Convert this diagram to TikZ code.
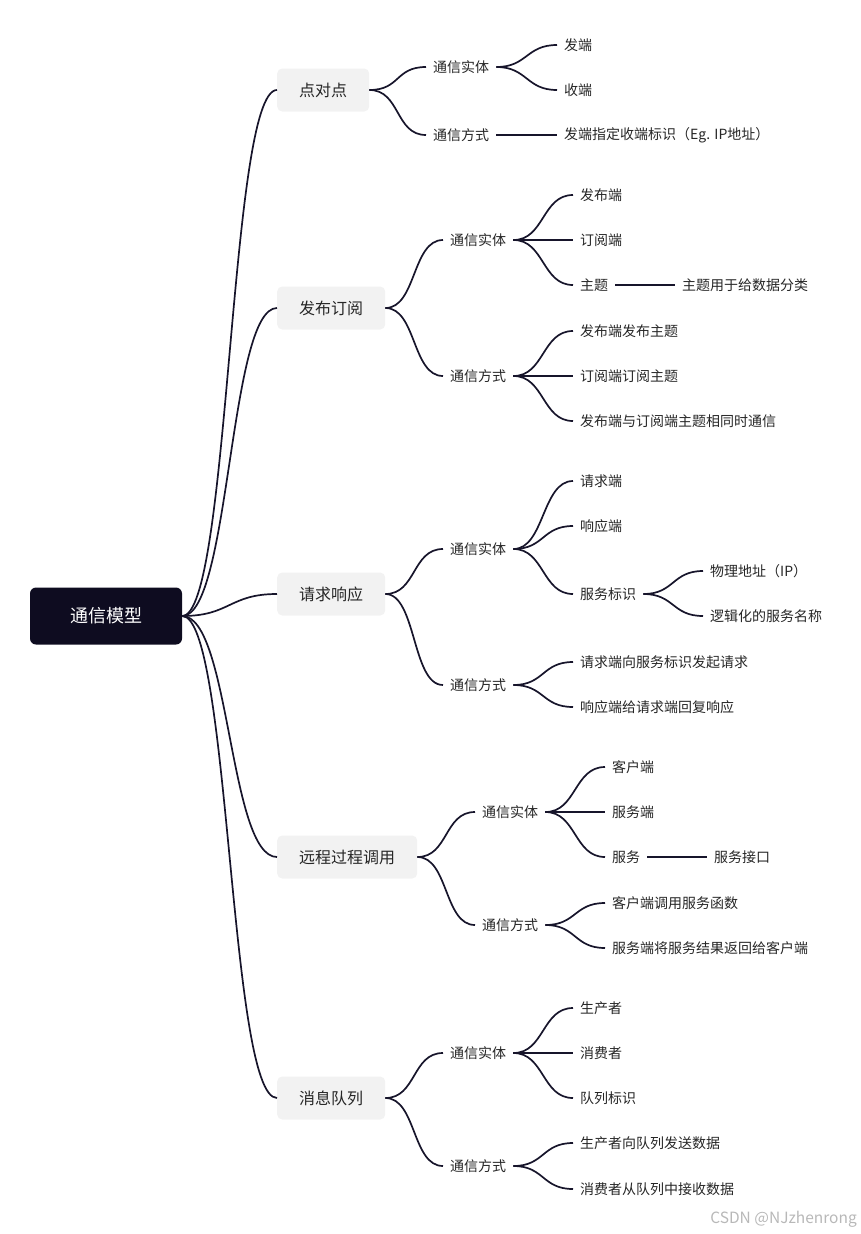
\documentclass[tikz,border=0pt]{standalone}
\usepackage{fontspec}
\setmainfont{Noto Sans CJK SC}
\usetikzlibrary{positioning, calc}
\definecolor{tintaoscura}{HTML}{0E0C20}
\definecolor{grisclaro}{HTML}{F2F2F2}
\definecolor{azulnoche}{HTML}{17152B}
\definecolor{grismarca}{HTML}{B8B8B8}
\colorlet{colRaiz}{tintaoscura}
\colorlet{colTema}{grisclaro}
\colorlet{colRama}{azulnoche}
\colorlet{colTexto}{black!85}
\colorlet{colMarca}{grismarca}
\tikzset{
  cajaRaiz/.style={
    fill=colRaiz, rounded corners=6pt, text=white,
    minimum height=57pt, inner xsep=40pt, inner ysep=0pt,
    font=\fontsize{18}{22}\selectfont
  },
  cajaTema/.style={
    fill=colTema, rounded corners=5pt, text=colTexto,
    minimum height=43pt, inner xsep=22pt, inner ysep=0pt,
    font=\fontsize{16}{19}\selectfont, anchor=west
  },
  etiqueta/.style={
    inner xsep=7pt, inner ysep=2pt, text=colTexto,
    font=\fontsize{14}{17}\selectfont, anchor=west
  },
  rama/.style={draw=colRama, line width=1.7pt},
  curva/.style={to path={.. controls +(#1,0) and +(-#1,0) .. (\tikztotarget) \tikztonodes}},
  curva/.default=31,
  marcaAgua/.style={text=colMarca, font=\fontsize{15.5}{18}\selectfont, anchor=east, inner sep=0pt},
}
\begin{document}
\begin{tikzpicture}[x=1pt, y=-1pt, node distance=40pt]
  \useasboundingbox (0,0) rectangle (861,1234);
  \node[cajaRaiz] (raiz) at (106,616) {通信模型};

  \node[cajaTema] (ppp) at (277,90) {点对点};
  \node[cajaTema] (pubsub) at (277,308) {发布订阅};
  \node[cajaTema] (reqres) at (277,594) {请求响应};
  \node[cajaTema] (rpc) at (277,857) {远程过程调用};
  \node[cajaTema] (cola) at (277,1098) {消息队列};

  \node[etiqueta] (ppp-ent) at (426,67) {通信实体};
  \node[etiqueta] (ppp-mod) at (426,135) {通信方式};
  \node[etiqueta] (ppp-tx) at (557,45) {发端};
  \node[etiqueta] (ppp-rx) at (557,90) {收端};
  \node[etiqueta] (ppp-dir) at (557,135) {发端指定收端标识（Eg. IP地址）};

  \node[etiqueta] (ps-ent) at (443,240) {通信实体};
  \node[etiqueta] (ps-mod) at (443,376) {通信方式};
  \node[etiqueta] (ps-pub) at (573,195) {发布端};
  \node[etiqueta] (ps-sub) at (573,240) {订阅端};
  \node[etiqueta] (ps-tema) at (573,285) {主题};
  \node[etiqueta] (ps-temad) at (675,285) {主题用于给数据分类};
  \node[etiqueta] (ps-m1) at (573,331) {发布端发布主题};
  \node[etiqueta] (ps-m2) at (573,376) {订阅端订阅主题};
  \node[etiqueta] (ps-m3) at (573,421) {发布端与订阅端主题相同时通信};

  \node[etiqueta] (rr-ent) at (443,549) {通信实体};
  \node[etiqueta] (rr-mod) at (443,685) {通信方式};
  \node[etiqueta] (rr-req) at (573,481) {请求端};
  \node[etiqueta] (rr-res) at (573,526) {响应端};
  \node[etiqueta] (rr-id) at (573,594) {服务标识};
  \node[etiqueta] (rr-ip) at (703,571) {物理地址（IP）};
  \node[etiqueta] (rr-nom) at (703,616) {逻辑化的服务名称};
  \node[etiqueta] (rr-m1) at (573,662) {请求端向服务标识发起请求};
  \node[etiqueta] (rr-m2) at (573,707) {响应端给请求端回复响应};

  \node[etiqueta] (rpc-ent) at (475,812) {通信实体};
  \node[etiqueta] (rpc-mod) at (475,925) {通信方式};
  \node[etiqueta] (rpc-cli) at (605,767) {客户端};
  \node[etiqueta] (rpc-srv) at (605,812) {服务端};
  \node[etiqueta] (rpc-svc) at (605,857) {服务};
  \node[etiqueta] (rpc-if) at (707,857) {服务接口};
  \node[etiqueta] (rpc-m1) at (605,903) {客户端调用服务函数};
  \node[etiqueta] (rpc-m2) at (605,948) {服务端将服务结果返回给客户端};

  \node[etiqueta] (mq-ent) at (443,1053) {通信实体};
  \node[etiqueta] (mq-mod) at (443,1166) {通信方式};
  \node[etiqueta] (mq-prod) at (573,1008) {生产者};
  \node[etiqueta] (mq-cons) at (573,1053) {消费者};
  \node[etiqueta] (mq-id) at (573,1098) {队列标识};
  \node[etiqueta] (mq-m1) at (573,1143) {生产者向队列发送数据};
  \node[etiqueta] (mq-m2) at (573,1189) {消费者从队列中接收数据};

  \node[marcaAgua] (marca) at (857,1219) {CSDN @NJzhenrong};

  \draw[rama] (raiz.east) to[curva=48] (ppp.west);
  \draw[rama] (raiz.east) to[curva=48] (pubsub.west);
  \draw[rama] (raiz.east) to[curva=48] (reqres.west);
  \draw[rama] (raiz.east) to[curva=48] (rpc.west);
  \draw[rama] (raiz.east) to[curva=48] (cola.west);

  \draw[rama] (ppp.east) to[curva] (ppp-ent.west);
  \draw[rama] (ppp.east) to[curva] (ppp-mod.west);
  \draw[rama] (ppp-ent.east) to[curva] (ppp-tx.west);
  \draw[rama] (ppp-ent.east) to[curva] (ppp-rx.west);
  \draw[rama] (ppp-mod.east) to[curva] (ppp-dir.west);

  \draw[rama] (pubsub.east) to[curva] (ps-ent.west);
  \draw[rama] (pubsub.east) to[curva] (ps-mod.west);
  \draw[rama] (ps-ent.east) to[curva] (ps-pub.west);
  \draw[rama] (ps-ent.east) to[curva] (ps-sub.west);
  \draw[rama] (ps-ent.east) to[curva] (ps-tema.west);
  \draw[rama] (ps-tema.east) to[curva] (ps-temad.west);
  \draw[rama] (ps-mod.east) to[curva] (ps-m1.west);
  \draw[rama] (ps-mod.east) to[curva] (ps-m2.west);
  \draw[rama] (ps-mod.east) to[curva] (ps-m3.west);

  \draw[rama] (reqres.east) to[curva] (rr-ent.west);
  \draw[rama] (reqres.east) to[curva] (rr-mod.west);
  \draw[rama] (rr-ent.east) to[curva] (rr-req.west);
  \draw[rama] (rr-ent.east) to[curva] (rr-res.west);
  \draw[rama] (rr-ent.east) to[curva] (rr-id.west);
  \draw[rama] (rr-id.east) to[curva] (rr-ip.west);
  \draw[rama] (rr-id.east) to[curva] (rr-nom.west);
  \draw[rama] (rr-mod.east) to[curva] (rr-m1.west);
  \draw[rama] (rr-mod.east) to[curva] (rr-m2.west);

  \draw[rama] (rpc.east) to[curva] (rpc-ent.west);
  \draw[rama] (rpc.east) to[curva] (rpc-mod.west);
  \draw[rama] (rpc-ent.east) to[curva] (rpc-cli.west);
  \draw[rama] (rpc-ent.east) to[curva] (rpc-srv.west);
  \draw[rama] (rpc-ent.east) to[curva] (rpc-svc.west);
  \draw[rama] (rpc-svc.east) to[curva] (rpc-if.west);
  \draw[rama] (rpc-mod.east) to[curva] (rpc-m1.west);
  \draw[rama] (rpc-mod.east) to[curva] (rpc-m2.west);

  \draw[rama] (cola.east) to[curva] (mq-ent.west);
  \draw[rama] (cola.east) to[curva] (mq-mod.west);
  \draw[rama] (mq-ent.east) to[curva] (mq-prod.west);
  \draw[rama] (mq-ent.east) to[curva] (mq-cons.west);
  \draw[rama] (mq-ent.east) to[curva] (mq-id.west);
  \draw[rama] (mq-mod.east) to[curva] (mq-m1.west);
  \draw[rama] (mq-mod.east) to[curva] (mq-m2.west);
\end{tikzpicture}
\end{document}
